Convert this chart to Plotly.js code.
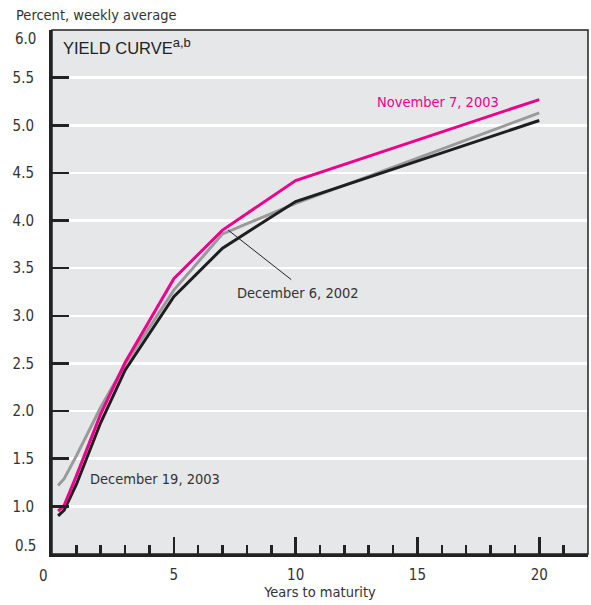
<!DOCTYPE html>
<html>
<head>
<meta charset="utf-8">
<script src="https://cdn.plot.ly/plotly-3.0.1.min.js"></script>
<style>html,body{margin:0;padding:0;background:#fff;}#chart{width:591px;height:605px;}</style>
</head>
<body>
<div id="chart"></div>
<script>
// Data
var maturities = [0.25, 0.5, 1, 2, 3, 5, 7, 10, 20];
var nov2003 = [0.95, 1.01, 1.32, 1.97, 2.51, 3.39, 3.90, 4.42, 5.27];
var dec2002 = [1.22, 1.29, 1.53, 2.04, 2.49, 3.27, 3.86, 4.18, 5.13];
var dec2003 = [0.90, 0.96, 1.23, 1.88, 2.43, 3.20, 3.71, 4.20, 5.05];
var seriesNames = ["November 7, 2003", "December 6, 2002", "December 19, 2003"];
var xTickVals = [0, 5, 10, 15, 20];
var xTickText = ["0", "5", "10", "15", "20"];
var yTickVals = [0.5, 1.0, 1.5, 2.0, 2.5, 3.0, 3.5, 4.0, 4.5, 5.0, 5.5, 6.0];
var yTickText = ["0.5", "1.0", "1.5", "2.0", "2.5", "3.0", "3.5", "4.0", "4.5", "5.0", "5.5", "6.0"];

var NARROW = '"Liberation Sans Narrow", "DejaVu Sans Condensed", sans-serif';
var TXT = '#333333';
var PINK = '#ec008c', GRAY = '#9a9a9a', BLACK = '#1e1e1e';
var TICKSIZE = 15, LABELSIZE = 14.5;

var traces = [
  {x: maturities, y: dec2002, name: seriesNames[1], mode: 'lines', line: {color: GRAY, width: 3}},
  {x: maturities, y: dec2003, name: seriesNames[2], mode: 'lines', line: {color: BLACK, width: 3}},
  {x: maturities, y: nov2003, name: seriesNames[0], mode: 'lines', line: {color: PINK, width: 3}}
];

// Axis-drawn ticks: the inner ones. The range-edge labels are nudged inward as in the original.
var yInnerVals = yTickVals.slice(1, -1), yInnerText = yTickText.slice(1, -1);
var xInnerVals = xTickVals.slice(1), xInnerText = xTickText.slice(1);

var annotations = [
  {xref: 'paper', yref: 'y', x: 0, y: yTickVals[yTickVals.length - 1], xanchor: 'right', yanchor: 'middle',
   xshift: -14, yshift: -9, text: yTickText[yTickText.length - 1], showarrow: false,
   font: {family: NARROW, size: TICKSIZE, color: TXT}},
  {xref: 'paper', yref: 'y', x: 0, y: yTickVals[0], xanchor: 'right', yanchor: 'middle',
   xshift: -14, yshift: 8, text: yTickText[0], showarrow: false,
   font: {family: NARROW, size: TICKSIZE, color: TXT}},
  {xref: 'x', yref: 'paper', x: xTickVals[0], y: 0, xanchor: 'center', yanchor: 'top',
   xshift: -9, yshift: -11, text: xTickText[0], showarrow: false,
   font: {family: NARROW, size: TICKSIZE, color: TXT}},
  {xref: 'paper', yref: 'paper', x: 0, y: 1, xanchor: 'left', yanchor: 'top', xshift: 9, yshift: -3,
   text: 'YIELD CURVE<sup><span style="font-size:13px">a,b</span></sup>', showarrow: false,
   font: {family: '"Liberation Sans", Arial, sans-serif', size: 16.5, color: '#222222'}},
  {xref: 'paper', yref: 'paper', x: 0, y: 1, xanchor: 'left', yanchor: 'bottom', xshift: -38, yshift: 5,
   text: 'Percent, weekly average', showarrow: false,
   font: {family: NARROW, size: LABELSIZE, color: TXT}},
  {xref: 'x', yref: 'y', x: 15.85, y: 5.245, text: seriesNames[0], showarrow: false,
   font: {family: NARROW, size: LABELSIZE, color: PINK}},
  {xref: 'x', yref: 'y', x: 10.1, y: 3.24, text: seriesNames[1], showarrow: false,
   font: {family: NARROW, size: LABELSIZE, color: TXT}},
  {xref: 'x', yref: 'y', x: 4.23, y: 1.287, text: seriesNames[2], showarrow: false,
   font: {family: NARROW, size: LABELSIZE, color: TXT}}
];

var shapes = [
  // leader line from the December 6, 2002 label to its curve
  {type: 'line', xref: 'x', yref: 'y', x0: 7.23, y0: 3.90, x1: 9.82, y1: 3.38,
   line: {color: '#222222', width: 1}},
  // frame (top/right thinner)
  {type: 'rect', xref: 'paper', yref: 'paper', x0: 0, y0: 0, x1: 1, y1: 1,
   line: {color: '#222222', width: 1.5}}
];

var layout = {
  width: 591, height: 605,
  margin: {l: 51.5, r: 3, t: 29.6, b: 50.6, pad: 0},
  paper_bgcolor: '#ffffff',
  plot_bgcolor: '#e6e7e9',
  showlegend: false,
  xaxis: {
    range: [0, 22], tickvals: xInnerVals, ticktext: xInnerText,
    ticks: 'inside', ticklen: 17, tickwidth: 2.5, tickcolor: '#222222',
    minor: {dtick: 1, tick0: 0, ticks: 'inside', ticklen: 9, tickwidth: 2.5, tickcolor: '#222222', showgrid: false},
    showgrid: false, zeroline: false, showline: true, linecolor: '#222222', linewidth: 3,
    tickfont: {family: NARROW, size: TICKSIZE, color: TXT}, ticklabelstandoff: 5,
    title: {text: 'Years to maturity', font: {family: NARROW, size: LABELSIZE, color: TXT}, standoff: 4},
    fixedrange: true
  },
  yaxis: {
    range: [0.5, 6.0], tickvals: yInnerVals, ticktext: yInnerText,
    ticks: 'inside', ticklen: 17, tickwidth: 2.5, tickcolor: '#222222',
    showgrid: true, gridcolor: '#ffffff', gridwidth: 2.5,
    zeroline: false, showline: true, linecolor: '#222222', linewidth: 3,
    tickfont: {family: NARROW, size: TICKSIZE, color: TXT}, ticklabelstandoff: 12,
    fixedrange: true
  },
  annotations: annotations,
  shapes: shapes
};

Plotly.newPlot('chart', traces, layout, {staticPlot: true, displayModeBar: false});
</script>
</body>
</html>
